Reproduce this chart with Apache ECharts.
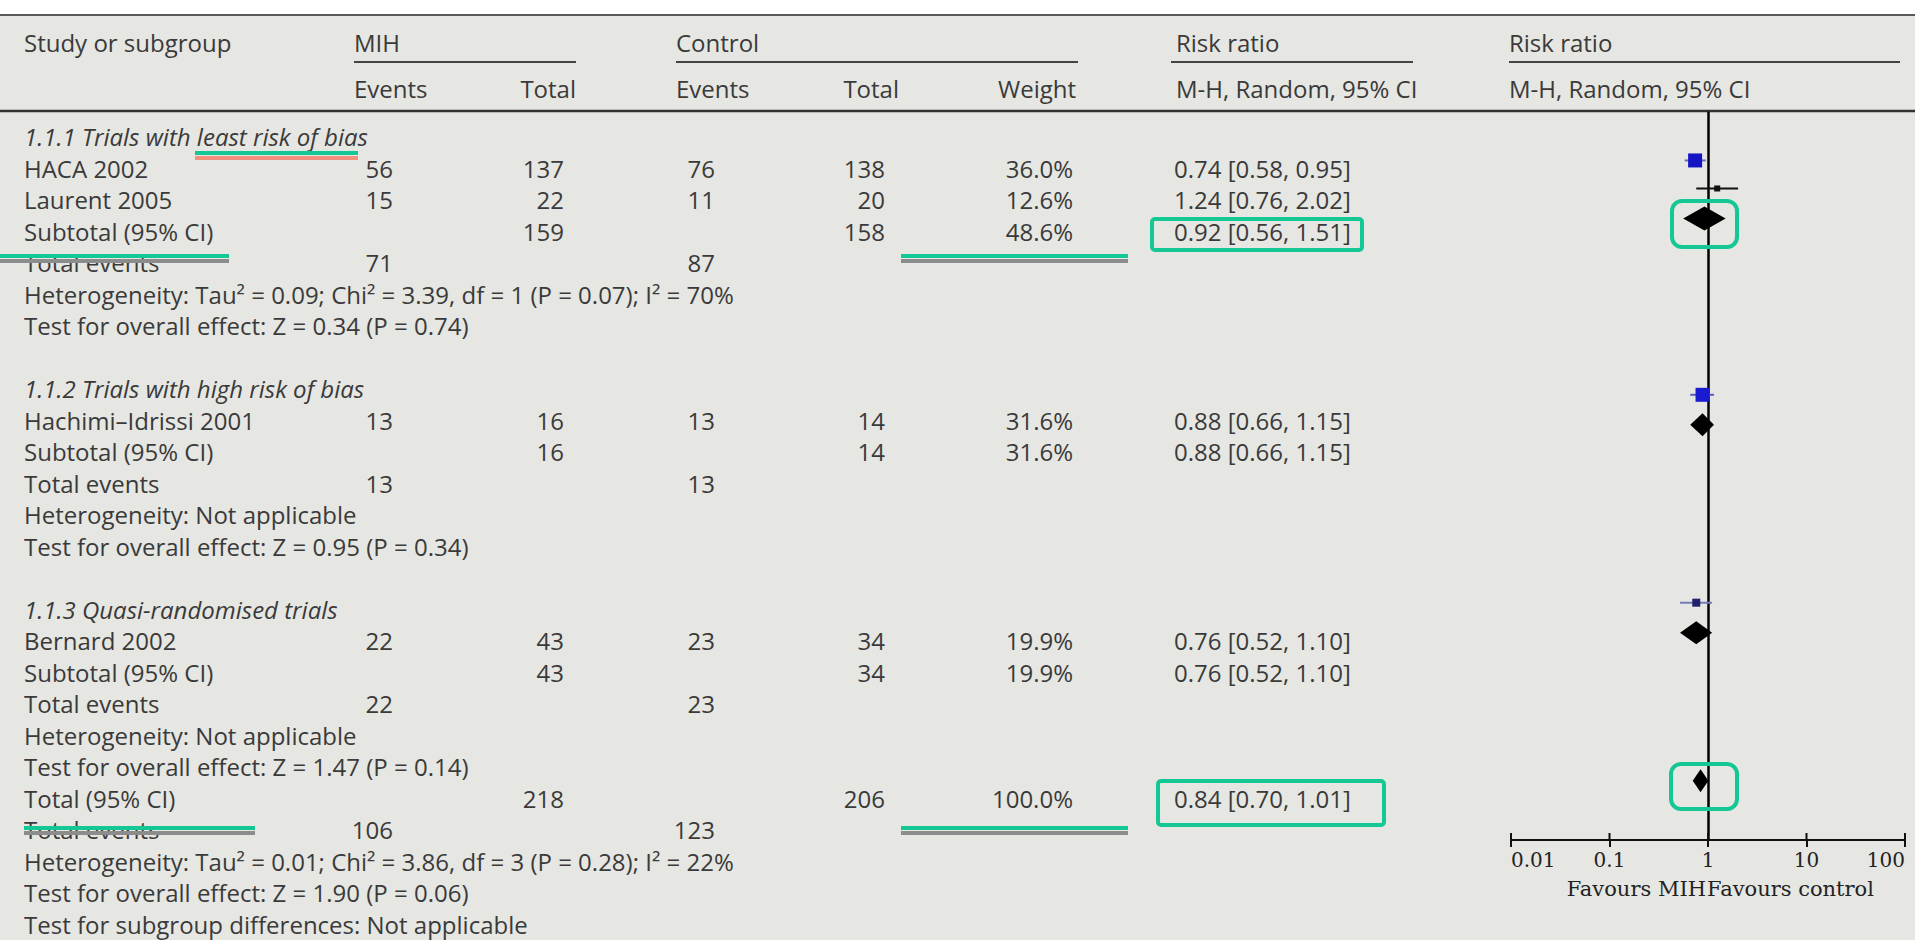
<!DOCTYPE html>
<html>
<head>
<meta charset="utf-8">
<script src="https://cdn.jsdelivr.net/npm/echarts@6/dist/echarts.min.js"></script>
<style>
html,body{margin:0;padding:0;background:#e6e6e2;}
#chart{width:1915px;height:940px;}
</style>
</head>
<body>
<div id="chart"></div>
<script>
// ---------------- DATA ----------------
const headerTop = ['Study or subgroup', 'MIH', 'Control', 'Risk ratio', 'Risk ratio'];
const headerSub = ['Events', 'Total', 'Events', 'Total', 'Weight', 'M-H, Random, 95% CI', 'M-H, Random, 95% CI'];

const rowLabels = [
  '1.1.1 Trials with least risk of bias', 'HACA 2002', 'Laurent 2005', 'Subtotal (95% CI)', 'Total events',
  'Heterogeneity: Tau² = 0.09; Chi² = 3.39, df = 1 (P = 0.07); I² = 70%',
  'Test for overall effect: Z = 0.34 (P = 0.74)', '',
  '1.1.2 Trials with high risk of bias', 'Hachimi–Idrissi 2001', 'Subtotal (95% CI)', 'Total events',
  'Heterogeneity: Not applicable', 'Test for overall effect: Z = 0.95 (P = 0.34)', '',
  '1.1.3 Quasi-randomised trials', 'Bernard 2002', 'Subtotal (95% CI)', 'Total events',
  'Heterogeneity: Not applicable', 'Test for overall effect: Z = 1.47 (P = 0.14)',
  'Total (95% CI)', 'Total events',
  'Heterogeneity: Tau² = 0.01; Chi² = 3.86, df = 3 (P = 0.28); I² = 22%',
  'Test for overall effect: Z = 1.90 (P = 0.06)',
  'Test for subgroup differences: Not applicable'
];
const italicRows = [0, 8, 15];
const mihEvents = ['', '56', '15', '', '71', '', '', '', '', '13', '', '13', '', '', '', '', '22', '', '22', '', '', '', '106', '', '', ''];
const mihTotal  = ['', '137', '22', '159', '', '', '', '', '', '16', '16', '', '', '', '', '', '43', '43', '', '', '', '218', '', '', '', ''];
const ctlEvents = ['', '76', '11', '', '87', '', '', '', '', '13', '', '13', '', '', '', '', '23', '', '23', '', '', '', '123', '', '', ''];
const ctlTotal  = ['', '138', '20', '158', '', '', '', '', '', '14', '14', '', '', '', '', '', '34', '34', '', '', '', '206', '', '', '', ''];
const weights   = ['', '36.0%', '12.6%', '48.6%', '', '', '', '', '', '31.6%', '31.6%', '', '', '', '', '', '19.9%', '19.9%', '', '', '', '100.0%', '', '', '', ''];
const rrText    = ['', '0.74 [0.58, 0.95]', '1.24 [0.76, 2.02]', '0.92 [0.56, 1.51]', '', '', '', '', '',
                   '0.88 [0.66, 1.15]', '0.88 [0.66, 1.15]', '', '', '', '', '',
                   '0.76 [0.52, 1.10]', '0.76 [0.52, 1.10]', '', '', '', '0.84 [0.70, 1.01]', '', '', '', ''];

// plotted estimates (as drawn in the figure)
const plotRR  = [0.74, 1.24, 0.92, 0.88, 0.88, 0.76, 0.76, 0.84];
const plotLo  = [0.58, 0.76, 0.56, 0.66, 0.66, 0.52, 0.52, 0.70];
const plotHi  = [0.95, 2.02, 1.51, 1.15, 1.15, 1.10, 1.10, 1.01];
const plotRow = [0.76, 1.65, 2.6, 8.2, 9.15, 14.8, 15.75, 20.45];

const tickValues = [0.01, 0.1, 1, 10, 100];
const tickLabels = ['0.01', '0.1', '1', '10', '100'];
const favourLabels = ['Favours MIH', 'Favours control'];

// ---------------- STYLE / LAYOUT ----------------
const markStyle = [
  {kind: 'sq', size: 14, color: '#1414c4', whisker: '#6a6ab8'},
  {kind: 'sq', size: 6,  color: '#111111', whisker: '#111111'},
  {kind: 'dm', h: 24, color: '#000000'},
  {kind: 'sq', size: 14, color: '#1a1ad0', whisker: '#5a5ac8'},
  {kind: 'dm', h: 23, color: '#000000'},
  {kind: 'sq', size: 8,  color: '#20206e', whisker: '#7a7ab8'},
  {kind: 'dm', h: 23, color: '#000000'},
  {kind: 'dm', h: 23, color: '#000000'}
];
const ROW0 = 136.5, ROWH = 31.5;
const TXT = '#3a3a3a';
const FONT = 'Open Sans';
const FS = 24;
const GREEN = '#14c896';
const GRID_TOP = 111.7, GRID_BOTTOM_Y = 840;
const Y_MIN = (GRID_TOP - ROW0) / ROWH, Y_MAX = (GRID_BOTTOM_Y - ROW0) / ROWH;

const g = [];
function txt(x, y, s, align, italic) {
  if (!s) return;
  g.push({
    type: 'text', x: x, y: y, z: 10,
    style: {text: s, fill: TXT, fontSize: FS, fontFamily: FONT, fontStyle: italic ? 'italic' : 'normal',
            textAlign: align, textVerticalAlign: 'middle'}
  });
}
function line(x1, y1, x2, y2, color, w, z) {
  g.push({type: 'line', z: z || 5, shape: {x1, y1, x2, y2}, style: {stroke: color, lineWidth: w}});
}
function box(x, y, w, h, r) {
  g.push({type: 'rect', z: 20, shape: {x, y, width: w, height: h, r: r},
          style: {fill: 'none', stroke: GREEN, lineWidth: 4}});
}

// top white strip and rules
g.push({type: 'rect', z: 1, shape: {x: 0, y: 0, width: 1915, height: 14}, style: {fill: '#ffffff'}});
line(0, 15, 1915, 15, '#5a5a5a', 2);
line(354, 62, 576, 62, '#444', 2);
line(676, 62, 1078, 62, '#444', 2);
line(1171, 62, 1413, 62, '#444', 2);
line(1509, 62, 1900, 62, '#444', 2);
line(0, 111, 1915, 111, '#333', 2.5);

// headers
txt(24, 42, headerTop[0], 'left');
txt(354, 42, headerTop[1], 'left');
txt(676, 42, headerTop[2], 'left');
txt(1176, 42, headerTop[3], 'left');
txt(1509, 42, headerTop[4], 'left');
txt(354, 88, headerSub[0], 'left');
txt(576, 88, headerSub[1], 'right');
txt(676, 88, headerSub[2], 'left');
txt(899, 88, headerSub[3], 'right');
txt(1076, 88, headerSub[4], 'right');
txt(1176, 88, headerSub[5], 'left');
txt(1509, 88, headerSub[6], 'left');

// body rows
rowLabels.forEach((lab, i) => {
  const y = ROW0 + ROWH * i;
  txt(24, y, lab, 'left', italicRows.indexOf(i) >= 0);
  txt(393, y, mihEvents[i], 'right');
  txt(564, y, mihTotal[i], 'right');
  txt(715, y, ctlEvents[i], 'right');
  txt(885, y, ctlTotal[i], 'right');
  txt(1073, y, weights[i], 'right');
  txt(1174, y, rrText[i], 'left');
});

// favours labels
g.push({type: 'text', x: 1706, y: 889, z: 10, style: {text: favourLabels[0], fill: '#222', fontSize: 21, fontFamily: 'DejaVu Serif', textAlign: 'right', textVerticalAlign: 'middle'}});
g.push({type: 'text', x: 1707, y: 889, z: 10, style: {text: favourLabels[1], fill: '#222', fontSize: 21, fontFamily: 'DejaVu Serif', textAlign: 'left', textVerticalAlign: 'middle'}});

// green annotation marks
line(195, 153, 358, 153, GREEN, 4, 20);
line(195, 158, 358, 158, '#f2927e', 4, 19);
line(0, 256, 229, 256, GREEN, 4, 20);
line(0, 261, 229, 261, '#8c8c8c', 4, 19);
line(901, 256, 1128, 256, GREEN, 4, 20);
line(901, 261, 1128, 261, '#8c8c8c', 4, 19);
box(1152, 219, 210, 31, 3);
box(1672, 201, 65, 46, 10);
line(24, 828, 255, 828, GREEN, 4, 20);
line(24, 833, 255, 833, '#8c8c8c', 4, 19);
line(901, 828, 1128, 828, GREEN, 4, 20);
line(901, 833, 1128, 833, '#8c8c8c', 4, 19);
box(1158, 781, 226, 44, 3);
box(1671, 764, 66, 45, 10);

// ---------------- CHART ----------------
const chart = echarts.init(document.getElementById('chart'), null, {renderer: 'svg'});
const fmt = v => {
  for (let k = 0; k < tickValues.length; k++) {
    if (Math.abs(Math.log10(v) - Math.log10(tickValues[k])) < 1e-6) return tickLabels[k];
  }
  return '';
};
chart.setOption({
  backgroundColor: '#e6e6e2',
  animation: false,
  grid: {left: 1511, right: 10, top: GRID_TOP, bottom: 940 - GRID_BOTTOM_Y, containLabel: false},
  xAxis: {
    type: 'log', logBase: 10, min: tickValues[0], max: tickValues[tickValues.length - 1],
    position: 'bottom', splitLine: {show: false},
    axisLine: {show: true, onZero: false, lineStyle: {color: '#111', width: 2}},
    axisTick: {show: true, length: 7, lineStyle: {color: '#111', width: 2}},
    axisLabel: {show: true, formatter: fmt, color: '#222', fontSize: 20, fontFamily: 'DejaVu Serif',
                margin: 10, alignMinLabel: 'left', alignMaxLabel: 'right'}
  },
  yAxis: {type: 'value', min: Y_MIN, max: Y_MAX, inverse: true, show: false},
  graphic: {elements: g},
  series: [{
    type: 'custom',
    encode: {x: [0, 1, 2], y: 3},
    data: plotRR.map((v, i) => [v, plotLo[i], plotHi[i], plotRow[i]]),
    renderItem: function (params, api) {
      const st = markStyle[params.dataIndex];
      const c = api.coord([api.value(0), api.value(3)]);
      const l = api.coord([api.value(1), api.value(3)]);
      const h = api.coord([api.value(2), api.value(3)]);
      if (st.kind === 'dm') {
        return {type: 'polygon', shape: {points: [[l[0], c[1]], [c[0], c[1] - st.h / 2], [h[0], c[1]], [c[0], c[1] + st.h / 2]]},
                style: {fill: st.color}};
      }
      return {type: 'group', children: [
        {type: 'line', shape: {x1: l[0], y1: c[1], x2: h[0], y2: c[1]}, style: {stroke: st.whisker, lineWidth: 2}},
        {type: 'rect', shape: {x: c[0] - st.size / 2, y: c[1] - st.size / 2, width: st.size, height: st.size}, style: {fill: st.color}}
      ]};
    },
    markLine: {
      silent: true, symbol: ['none', 'none'], label: {show: false},
      lineStyle: {color: '#000', width: 2.5, type: 'solid'},
      data: [{xAxis: 1}]
    },
    z: 5
  }, {
    // upward half of the crossing ticks on the risk-ratio axis
    type: 'custom',
    silent: true,
    encode: {x: 0},
    data: tickValues.map(v => [v]),
    renderItem: function (params, api) {
      const x = api.coord([api.value(0), Y_MAX])[0];
      const yb = params.coordSys.y + params.coordSys.height;
      return {type: 'line', shape: {x1: x, y1: yb - 7, x2: x, y2: yb}, style: {stroke: '#111', lineWidth: 2}};
    },
    z: 6
  }]
});
</script>
</body>
</html>
